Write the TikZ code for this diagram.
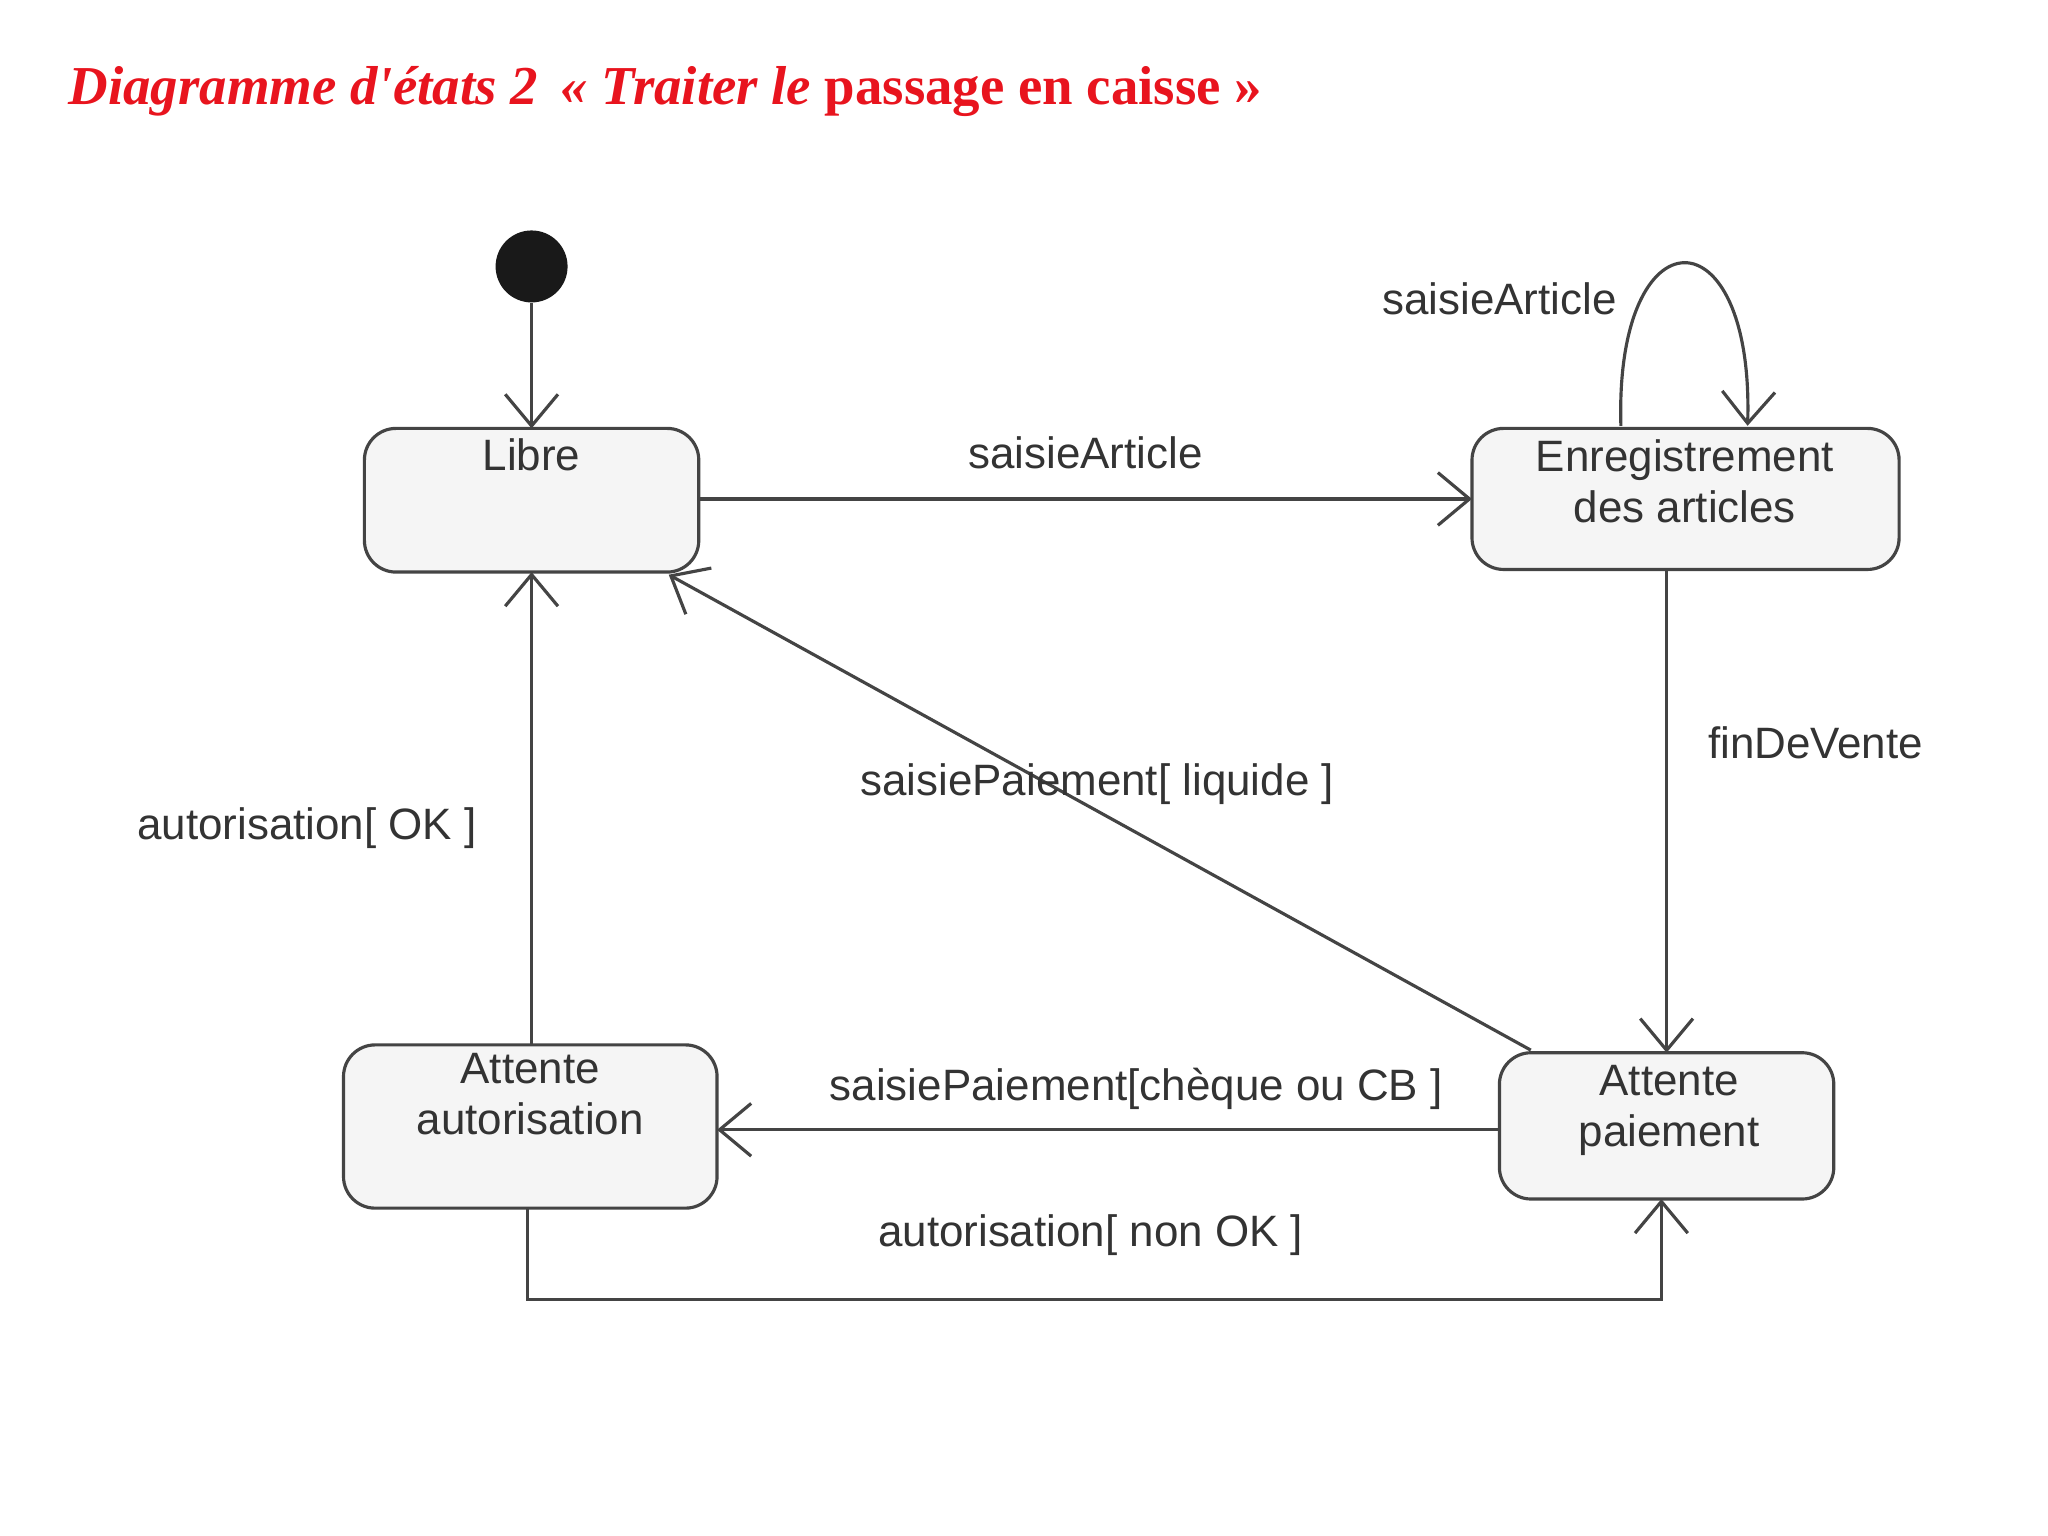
\documentclass[tikz,border=0pt]{standalone}
\usepackage{fontspec}
\setmainfont{Liberation Sans}
\newfontfamily\titlefont{Liberation Serif}
\usetikzlibrary{arrows.meta}
\definecolor{ln}{HTML}{444444}
\definecolor{bx}{HTML}{F5F5F5}
\definecolor{tred}{HTML}{E8141E}
\begin{document}
\begin{tikzpicture}[x=0.01306cm,y=-0.01306cm,
  st/.style={draw=ln,line width=0.9pt,fill=bx,rounded corners=9pt},
  tr/.style={draw=ln,line width=0.9pt,-{Straight Barb[length=9pt,width=15pt,line width=0.9pt]}},
  lb/.style={font=\fontsize{12.5}{14}\selectfont,text=black!80,inner sep=0pt},
  stt/.style={font=\fontsize{12.5}{14.5}\selectfont,text=black!80,align=center,inner sep=0pt,anchor=north}]
\useasboundingbox (0,0) rectangle (1568,1176);
\node[anchor=base west,text=tred,inner sep=0pt,font=\titlefont\fontsize{15.6}{18}\selectfont] (title) at (52,80)
  {\textbf{\textit{Diagramme d'états 2 \,« Traiter le}} \textbf{passage en caisse »}};
\node[circle,fill=black!90,inner sep=0pt,minimum size=0.72cm] (init) at (407,204) {};
\path[st] (279,328) rectangle (535,438);
\coordinate (libN) at (407,328); \coordinate (libE) at (535,382); \coordinate (libS) at (407,438); \coordinate (libC) at (512,440);
\node[stt] (libre) at (407,335) {Libre};
\path[st] (1127,328) rectangle (1454,436);
\node[stt] (enr) at (1290,336) {Enregistrement\\des articles};
\coordinate (enrW) at (1127,382); \coordinate (enrS) at (1276,436);
\coordinate (enrL1) at (1241,326); \coordinate (enrL2) at (1338,326);
\path[st] (263,800) rectangle (549,925);
\node[stt] (aa) at (406,806) {Attente\\autorisation};
\coordinate (aaN) at (407,800); \coordinate (aaE) at (549,865); \coordinate (aaS) at (404,925);
\path[st] (1148,806) rectangle (1404,918);
\node[stt] (ap) at (1278,815) {Attente\\paiement};
\coordinate (apN) at (1276,806); \coordinate (apW) at (1148,865); \coordinate (apS) at (1272,918); \coordinate (apC) at (1172,804);
\draw[tr] (init) -- (libN);
\draw[tr] (libE) -- (enrW);
\draw[tr] (enrL1) .. controls (1236,160) and (1343,160) .. (enrL2);
\draw[tr] (enrS) -- (apN);
\draw[tr] (apC) -- (libC);
\draw[tr] (apW) -- (aaE);
\draw[tr] (aaN) -- (libS);
\draw[tr] (aaS) -- (404,995) -- (1272,995) -- (apS);
\node[lb] at (831,347) {saisieArticle};
\node[lb] at (1148,229) {saisieArticle};
\node[lb] at (1390,569) {finDeVente};
\node[lb] at (840,600) {saisiePaiement[ liquide ]};
\node[lb] at (870,834) {saisiePaiement[chèque ou CB ]};
\node[lb] at (235,634) {autorisation[ OK ]};
\node[lb] at (835,946) {autorisation[ non OK ]};
\end{tikzpicture}
\end{document}
